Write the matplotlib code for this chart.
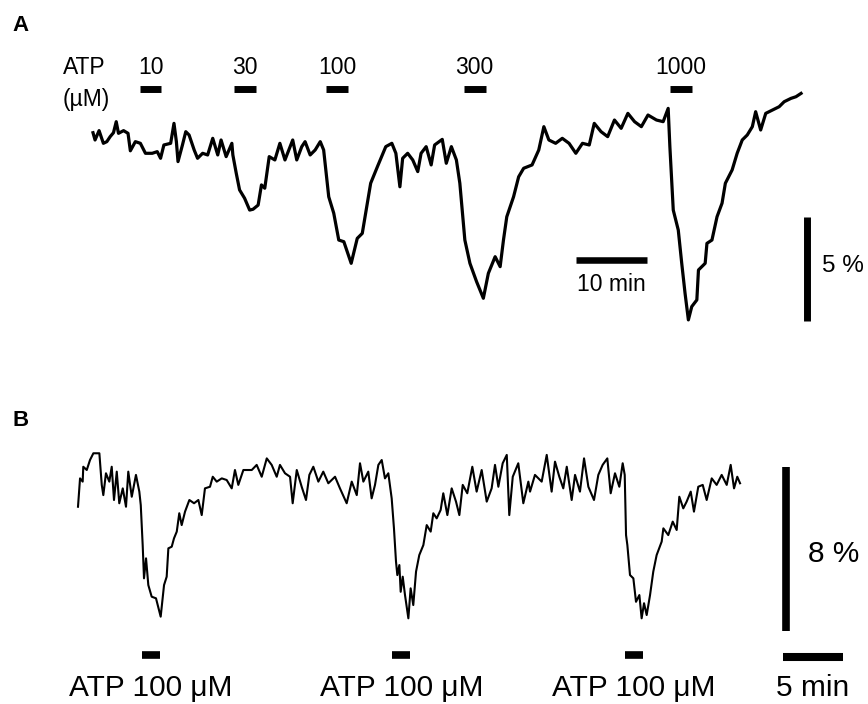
import numpy as np
import matplotlib
matplotlib.use('Agg')
import matplotlib.pyplot as plt

plt.rcParams['font.family'] = ['Liberation Sans', 'DejaVu Sans']

# --- Panel A: trace (time in min, response in %) ---
a_time = [0.0, 0.29, 0.86, 1.47, 1.96, 2.43, 2.9, 3.29, 3.61, 4.33, 4.96, 5.29, 6.0, 6.71,
          7.43, 8.39, 9.1, 9.57, 10.04, 11.0, 11.47, 11.81, 12.04, 12.67, 13.14, 13.61, 14.33,
          14.81, 15.53, 16.24, 16.96, 17.67, 18.14, 18.86, 19.67, 19.81, 20.29, 20.76, 21.47,
          22.19, 22.67, 23.39, 23.86, 24.33, 24.96, 25.76, 26.47, 27.19, 28.29, 28.86, 29.57,
          30.04, 30.76, 31.47, 32.19, 32.67, 33.39, 34.1, 34.81, 35.53, 36.57, 37.43, 38.14,
          38.86, 39.33, 40.29, 41.47, 42.33, 42.9, 43.47, 43.86, 44.57, 45.29, 46.0, 46.47,
          47.19, 47.9, 48.39, 49.47, 50.04, 50.76, 51.47, 51.96, 52.67, 53.39, 54.33, 55.29,
          56.0, 56.96, 57.67, 58.14, 58.61, 59.57, 60.29, 61.0, 62.19, 63.14, 63.86, 64.57,
          65.53, 66.47, 67.43, 68.39, 69.33, 70.29, 71.0, 71.96, 72.9, 73.86, 74.81, 75.76,
          76.71, 77.67, 78.61, 79.81, 80.76, 81.47, 81.71, 82.19, 82.9, 83.39, 83.86, 84.33,
          84.81, 85.53, 85.76, 86.71, 86.96, 87.67, 88.39, 89.1, 89.57, 90.53, 91.24, 91.96,
          92.67, 93.39, 93.86, 94.57, 95.29, 96.24, 97.19, 97.9, 98.86, 99.57, 100.29]
a_resp = [-0.13, -0.48, -0.03, -0.64, -0.56, -0.32, -0.13, 0.40, -0.16, -0.03, -0.16, -1.0,
          -0.56, -0.64, -1.12, -1.12, -1.04, -1.36, -0.72, -0.64, 0.32, -0.56, -1.52, -0.72,
          -0.08, -0.24, -0.96, -1.36, -1.12, -1.2, -0.4, -1.2, -0.48, -1.28, -0.64, -1.2, -2.08,
          -2.88, -3.28, -3.85, -3.81, -3.61, -2.64, -2.8, -1.28, -1.44, -0.64, -1.44, -0.48,
          -1.44, -0.8, -0.56, -1.2, -0.96, -0.56, -0.96, -3.21, -4.0, -5.29, -5.37, -6.41,
          -5.21, -4.97, -3.52, -2.56, -1.76, -0.8, -0.64, -1.12, -2.73, -1.36, -1.12, -1.44,
          -2.0, -1.12, -0.8, -1.68, -0.72, -0.45, -1.6, -0.8, -1.44, -2.56, -5.29, -6.41, -7.29,
          -8.09, -6.89, -6.09, -6.57, -5.29, -4.17, -3.21, -2.25, -1.84, -1.68, -0.96, 0.16,
          -0.48, -0.64, -0.4, -0.64, -1.12, -0.64, -0.72, 0.32, -0.08, -0.32, 0.48, 0.08, 0.8,
          0.4, 0.16, 0.72, 0.48, 0.4, 1.04, -0.8, -3.85, -4.81, -6.41, -7.85, -9.13, -8.49,
          -8.17, -6.73, -6.41, -5.45, -5.29, -4.17, -3.52, -2.56, -1.92, -1.12, -0.48, -0.24,
          0.16, 0.88, 0.0, 0.8, 0.96, 1.12, 1.36, 1.52, 1.6, 1.76]
a_doses = ['10', '30', '100', '300', '1000']
a_onsets = [6.6, 20.0, 33.0, 52.5, 81.7]
a_duration = 3.1

# --- Panel B: trace (time in min, response in %) ---
b_time = [0.0, 0.17, 0.39, 0.44, 0.73, 1.0, 1.28, 1.78, 1.98, 2.11, 2.33, 2.61, 2.81, 3.0,
          3.23, 3.44, 3.73, 4.0, 4.19, 4.48, 4.83, 5.11, 5.23, 5.39, 5.5, 5.67, 5.86, 6.14,
          6.5, 6.78, 6.89, 7.17, 7.39, 7.53, 7.81, 8.0, 8.23, 8.44, 8.64, 8.92, 9.28, 9.67,
          10.03, 10.31, 10.58, 11.0, 11.23, 11.56, 11.98, 12.39, 12.81, 13.08, 13.36, 13.78,
          14.48, 14.89, 15.31, 15.73, 16.14, 16.56, 16.83, 17.25, 17.67, 17.89, 18.23, 18.64,
          19.0, 19.28, 19.61, 20.03, 20.44, 20.86, 21.42, 21.83, 22.39, 22.81, 23.23, 23.5,
          23.78, 24.19, 24.47, 24.75, 25.03, 25.31, 25.58, 25.86, 26.14, 26.33, 26.5, 26.61,
          26.78, 26.89, 27.06, 27.25, 27.53, 27.72, 27.94, 28.17, 28.44, 28.78, 29.06, 29.39,
          29.61, 29.89, 30.22, 30.44, 30.78, 31.14, 31.5, 31.78, 32.06, 32.44, 32.86, 33.22,
          33.64, 34.06, 34.47, 34.75, 35.03, 35.39, 35.73, 35.94, 36.23, 36.69, 37.11, 37.53,
          37.67, 38.08, 38.64, 39.06, 39.47, 39.75, 40.11, 40.44, 40.73, 41.14, 41.42, 41.83,
          42.17, 42.53, 43.0, 43.36, 43.72, 44.11, 44.39, 44.75, 45.11, 45.39, 45.56, 45.67,
          45.78, 46.0, 46.28, 46.5, 46.78, 46.97, 47.17, 47.39, 47.67, 47.94, 48.22, 48.64,
          48.78, 49.19, 49.56, 49.89, 50.11, 50.44, 50.72, 51.06, 51.33, 51.69, 52.06, 52.39,
          52.81, 53.22, 53.64, 54.06, 54.39, 54.67, 54.94, 55.17]
b_resp = [-0.82, 0.57, 0.41, 1.14, 0.98, 1.47, 1.8, 1.8, 0.25, -0.25, 0.82, 0.41, 1.14, -0.49,
          0.9, -0.65, 0.08, -0.82, 0.9, -0.33, 0.74, -0.08, -0.74, -2.7, -4.33, -3.35, -4.66,
          -5.23, -5.31, -5.97, -6.21, -4.66, -4.25, -2.86, -2.78, -2.37, -2.04, -1.14, -1.72,
          -1.06, -0.49, -0.65, -0.49, -1.23, 0.08, 0.16, 0.65, 0.41, 0.57, 0.49, 0.08, 0.98,
          0.25, 0.98, 0.98, 1.23, 0.65, 1.55, 1.23, 0.65, 1.23, 0.82, 0.65, -0.65, 0.98, 0.16,
          -0.49, 0.74, 1.14, 0.41, 0.9, 0.33, 0.65, 0.08, -0.65, 0.41, -0.25, 1.31, 0.41, 0.9,
          -0.41, 0.25, 1.23, 1.47, 0.57, 0.82, -0.41, -1.88, -3.51, -4.17, -3.68, -4.99, -4.25,
          -5.15, -6.29, -4.82, -5.64, -4.0, -3.19, -2.7, -1.72, -2.04, -1.14, -1.39, -0.98,
          -0.16, -1.23, 0.08, -0.57, -1.23, 0.25, -0.16, 1.14, -0.08, 0.98, -0.57, 0.08, 1.23,
          0.16, 1.31, 1.72, -1.23, 0.65, 1.31, -0.65, 0.41, -0.08, 0.74, 0.41, 1.72, -0.08,
          1.39, 0.65, 0.08, 1.14, -0.49, 0.74, -0.08, 1.55, 0.16, -0.49, 0.74, 1.23, 1.55,
          -0.16, 0.82, 0.16, 1.31, 0.74, -2.21, -2.7, -4.17, -4.33, -5.48, -5.15, -6.29, -5.55,
          -6.13, -5.15, -4.0, -3.19, -2.53, -1.88, -2.21, -1.55, -1.96, -0.33, -0.9, -0.57,
          -0.08, -1.06, 0.16, 0.25, -0.49, 0.57, 0.25, 0.74, 0.25, 1.23, 0.08, 0.65, 0.33]
b_onsets = [5.3, 26.2, 45.6]
b_duration = 1.5
b_label = 'ATP 100 \u03bcM'

W, H = 868, 704
fig = plt.figure(figsize=(W / 100, H / 100), dpi=100)

# panel A axes: 7.06 px per min, 20.8 px per %
axA = fig.add_axes([0, 1 - 360 / H, 1, 360 / H])
axA.set_xlim(-93 / 7.06, (W - 93) / 7.06)
axA.set_ylim((130 - 360) / 20.8, 130 / 20.8)
axA.axis('off')
axA.plot(a_time, a_resp, color='black', lw=2.3, solid_joinstyle='round')
for dose, t0 in zip(a_doses, a_onsets):
    axA.plot([t0, t0 + a_duration], [1.97, 1.97], color='black', lw=5, solid_capstyle='butt')
    axA.text(t0 + a_duration / 2, 2.69, dose, ha='center', va='baseline', fontsize=16.5)
axA.text(-4.3, 2.69, 'ATP', ha='left', va='baseline', fontsize=16.5)
axA.text(-4.3, 1.15, '(\u00b5M)', ha='left', va='baseline', fontsize=16.5)
# scale bars A
axA.plot([68.4, 78.4], [-6.25, -6.25], color='black', lw=4.7, solid_capstyle='butt')
axA.text(73.4, -7.74, '10 min', ha='center', va='baseline', fontsize=16.5)
axA.plot([101.1, 101.1], [-4.2, -9.2], color='black', lw=5, solid_capstyle='butt')
axA.text(103.3, -6.83, '5 %', ha='left', va='baseline', fontsize=17.5)

# panel B axes: 12 px per min, 20.4 px per %
axB = fig.add_axes([0, 0, 1, 344 / H])
axB.set_xlim(-78 / 12, (W - 78) / 12)
axB.set_ylim((490 - 704) / 20.4, (490 - 360) / 20.4)
axB.axis('off')
axB.plot(b_time, b_resp, color='black', lw=1.5, solid_joinstyle='round')
for t0 in b_onsets:
    axB.plot([t0, t0 + b_duration], [-8.11, -8.11], color='black', lw=5.5, solid_capstyle='butt')
    axB.text(t0 + b_duration / 2, -10.1, b_label, ha='center', va='baseline', fontsize=21.5)
# scale bars B
axB.plot([58.96, 58.96], [1.11, -6.89], color='black', lw=5.5, solid_capstyle='butt')
axB.text(60.83, -3.51, '8 %', ha='left', va='baseline', fontsize=21.5)
axB.plot([58.73, 63.73], [-8.17, -8.17], color='black', lw=5.8, solid_capstyle='butt')
axB.text(61.23, -10.1, '5 min', ha='center', va='baseline', fontsize=21.5)

fig.text(12 / W, 1 - 31 / H, 'A', fontsize=16, fontweight='bold', va='baseline')
fig.text(12 / W, 1 - 426 / H, 'B', fontsize=16, fontweight='bold', va='baseline')

fig.savefig('out.png', dpi=100)
